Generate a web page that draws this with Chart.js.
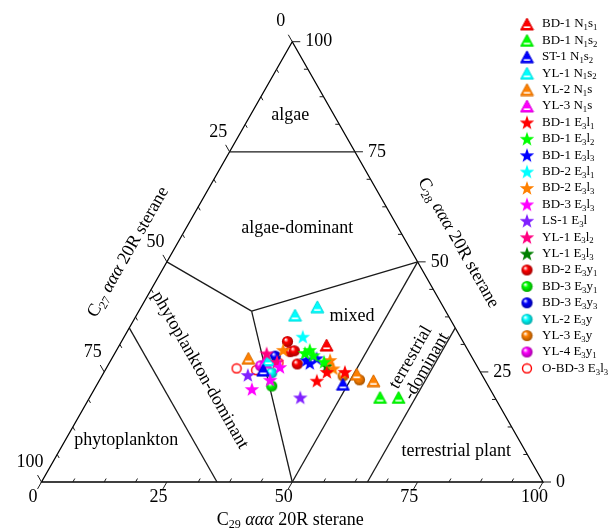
<!DOCTYPE html>
<html>
<head>
<meta charset="utf-8">
<script src="https://cdn.jsdelivr.net/npm/chart.js@4.4.1/dist/chart.umd.min.js"></script>
<style>
  body { margin: 0; background: #fff; }
  #wrap { width: 610px; height: 531px; }
</style>
</head>
<body>
<div id="wrap"><canvas id="ternary" width="610" height="531"></canvas></div>
<script>
const FONT = '"Liberation Serif", "Times New Roman", serif';

// Sample compositions, each point is [C27, C28, C29] in %
const bd1N1s1 = [[27.6, 31.1, 41.3]];
const bd1N1s2 = [[22.9, 19.2, 57.9], [19.2, 19.2, 61.6]];
const st1N1s2 = [[28.8, 22.2, 49.0], [43.1, 25.4, 31.5]];
const yl1N1s2 = [[30.5, 37.9, 31.6], [25.1, 39.8, 35.1], [40.9, 27.7, 31.4]];
const yl2N1s = [[44.7, 28.1, 27.2], [24.9, 24.5, 50.6], [22.3, 23.0, 54.7]];
const yl3N1s = [[41.8, 27.3, 30.9]];
const bd1E3l1 = [[30.6, 25.0, 44.4], [33.6, 23.0, 43.4], [27.0, 25.0, 48.0]];
const bd1E3l2 = [[31.5, 30.0, 38.5], [31.4, 28.8, 39.8], [30.0, 27.3, 42.7], [32.8, 29.3, 37.9]];
const bd1E3l3 = [[33.3, 27.7, 39.0], [31.1, 28.1, 40.8], [33.0, 27.0, 40.0]];
const bd2E3l1 = [[31.4, 33.0, 35.6]];
const bd2E3l3 = [[36.8, 30.0, 33.2], [28.6, 27.7, 43.7], [28.9, 25.8, 45.3]];
const bd3E3l3 = [[47.5, 21.1, 31.4], [42.8, 23.2, 34.0], [39.4, 26.1, 34.5]];
const ls1E3l = [[46.7, 24.3, 29.0], [38.8, 19.2, 42.0]];
const yl1E3l2 = [[40.5, 29.2, 30.3], [39.4, 27.3, 33.3]];
const yl1E3l3 = [[29.9, 26.4, 43.7]];
const bd2E3y1 = [[35.0, 31.9, 33.1], [35.6, 29.6, 34.8], [34.7, 29.8, 35.5], [35.6, 26.8, 37.6]];
const bd3E3y1 = [[43.2, 21.8, 35.0]];
const bd3E3y3 = [[39.1, 28.6, 32.3]];
const yl2E3y = [[41.7, 24.8, 33.5]];
const yl3E3y = [[27.8, 24.1, 48.1], [25.0, 23.2, 51.8]];
const yl4E3y1 = [[43.1, 26.4, 30.5]];
const oBd3E3l3 = [[39.2, 27.1, 33.7], [44.5, 25.4, 30.1], [48.2, 25.8, 26.0]];

// "_x" or "_{xy}" = subscript
const seriesNames = [
  'BD-1 N_1s_1', 'BD-1 N_1s_2', 'ST-1 N_1s_2', 'YL-1 N_1s_2', 'YL-2 N_1s', 'YL-3 N_1s',
  'BD-1 E_3l_1', 'BD-1 E_3l_2', 'BD-1 E_3l_3', 'BD-2 E_3l_1', 'BD-2 E_3l_3', 'BD-3 E_3l_3',
  'LS-1 E_3l', 'YL-1 E_3l_2', 'YL-1 E_3l_3', 'BD-2 E_3y_1', 'BD-3 E_3y_1', 'BD-3 E_3y_3',
  'YL-2 E_3y', 'YL-3 E_3y', 'YL-4 E_3y_1', 'O-BD-3 E_3l_3'
];
const seriesData = [
  bd1N1s1, bd1N1s2, st1N1s2, yl1N1s2, yl2N1s, yl3N1s,
  bd1E3l1, bd1E3l2, bd1E3l3, bd2E3l1, bd2E3l3, bd3E3l3,
  ls1E3l, yl1E3l2, yl1E3l3, bd2E3y1, bd3E3y1, bd3E3y3,
  yl2E3y, yl3E3y, yl4E3y1, oBd3E3l3
];
const seriesShapes = [
  'tri', 'tri', 'tri', 'tri', 'tri', 'tri',
  'star', 'star', 'star', 'star', 'star', 'star',
  'star', 'star', 'star', 'ball', 'ball', 'ball',
  'ball', 'ball', 'ball', 'ring'
];
const seriesColors = [
  '#ff0000', '#00ff00', '#0000ff', '#00ffff', '#ff8000', '#ff00ff',
  '#ff0000', '#00ff00', '#0000ff', '#00ffff', '#ff8000', '#ff00ff',
  '#8020ff', '#ff0080', '#008000', '#ff0000', '#00ff00', '#0000ff',
  '#00ffff', '#ff8000', '#ff00ff', '#ff0000'
];

const tickLabels = [0, 25, 50, 75, 100];
const minorStep = 6.25;

// class boundaries as [C27, C28, C29] end points
const kink = [38.7, 38.8, 22.5];
const boundaries = [
  [[25, 75, 0], [0, 75, 25]],
  [[50, 50, 0], kink],
  [kink, [0, 50, 50]],
  [kink, [50, 0, 50]],
  [[65, 35, 0], [65, 0, 35]],
  [[50, 0, 50], [0, 50, 50]],
  [[35, 0, 65], [0, 35, 65]]
];

// region names, placed in plot units (x = C29 + C28/2, y = C28)
const regionLabels = [
  { lines: ['algae'], x: 49.6, y: 83.3, rot: 0 },
  { lines: ['algae-dominant'], x: 51.0, y: 57.7, rot: 0 },
  { lines: ['mixed'], x: 61.9, y: 37.7, rot: 0 },
  { lines: ['phytoplankton-dominant'], x: 31.6, y: 25.4, rot: 60.3 },
  { lines: ['terrestrial', '-dominant'], x: 75.2, y: 27.3, rot: -60.3 },
  { lines: ['phytoplankton'], x: 16.9, y: 9.5, rot: 0 },
  { lines: ['terrestrial plant'], x: 82.7, y: 7.0, rot: 0 }
];

const axisTitles = [
  { text: 'C_{27} *ααα* 20R sterane', x: 17.3, y: 52.2, rot: -60.36 },
  { text: 'C_{28} *ααα* 20R sterane', x: 83.1, y: 54.3, rot: 60.3 },
  { text: 'C_{29} *ααα* 20R sterane', x: 49.6, y: -8.6, rot: 0 }
];

const toXY = (c) => ({ x: c[2] + c[1] / 2, y: c[1] });

// --- marker images ---
function darker(hex, f) {
  const n = parseInt(hex.slice(1), 16);
  const r = Math.round(((n >> 16) & 255) * f);
  const g = Math.round(((n >> 8) & 255) * f);
  const b = Math.round((n & 255) * f);
  return `rgb(${r},${g},${b})`;
}

function makeMarker(shape, color) {
  const c = document.createElement('canvas');
  const g = c.getContext('2d');
  if (shape === 'tri') {
    c.width = 15; c.height = 14;
    g.beginPath();
    g.moveTo(7.5, 1); g.lineTo(14, 13); g.lineTo(1, 13); g.closePath();
    g.fillStyle = color; g.fill();
    g.strokeStyle = darker(color, 0.85); g.lineWidth = 1; g.stroke();
    g.strokeStyle = '#fff'; g.lineWidth = 1.6;
    g.beginPath(); g.moveTo(4.3, 10.2); g.lineTo(10.7, 10.2); g.stroke();
  } else if (shape === 'star') {
    c.width = 16; c.height = 16;
    g.beginPath();
    for (let k = 0; k < 10; k++) {
      const r = k % 2 ? 3.1 : 7.6;
      const a = -Math.PI / 2 + k * Math.PI / 5;
      const px = 8 + r * Math.cos(a), py = 8.7 + r * Math.sin(a);
      if (k) g.lineTo(px, py); else g.moveTo(px, py);
    }
    g.closePath();
    g.fillStyle = color; g.fill();
  } else if (shape === 'ball') {
    c.width = 13; c.height = 13;
    const grd = g.createRadialGradient(4.6, 4.4, 0.3, 6.5, 6.5, 6.2);
    grd.addColorStop(0, '#ffffff');
    grd.addColorStop(0.35, color);
    grd.addColorStop(1, darker(color, 0.6));
    g.beginPath(); g.arc(6.5, 6.5, 5.6, 0, Math.PI * 2);
    g.fillStyle = grd; g.fill();
  } else {
    c.width = 12; c.height = 12;
    g.beginPath(); g.arc(6, 6, 4.5, 0, Math.PI * 2);
    g.fillStyle = '#fff'; g.fill();
    g.strokeStyle = color; g.lineWidth = 1.4; g.stroke();
  }
  return c;
}

const markers = seriesShapes.map((s, i) => makeMarker(s, seriesColors[i]));

// --- rich text: "_x"/"_{..}" subscript, "*" toggles italic ---
function parseRich(str) {
  const segs = [];
  let buf = '', it = false, i = 0;
  const flush = () => { if (buf) segs.push({ t: buf, it }); buf = ''; };
  while (i < str.length) {
    const ch = str[i];
    if (ch === '_') {
      flush();
      let s;
      if (str[i + 1] === '{') { const j = str.indexOf('}', i); s = str.slice(i + 2, j); i = j + 1; }
      else { s = str[i + 1]; i += 2; }
      segs.push({ t: s, sub: true, it });
    } else if (ch === '*') {
      flush(); it = !it; i++;
    } else { buf += ch; i++; }
  }
  flush();
  return segs;
}

function drawRich(ctx, str, x, y, size, align) {
  const segs = parseRich(str);
  const fontOf = (s) => `${s.it ? 'italic ' : ''}${s.sub ? size * 0.67 : size}px ${FONT}`;
  let total = 0;
  segs.forEach((s) => { ctx.font = fontOf(s); s.w = ctx.measureText(s.t).width; total += s.w; });
  let cx = align === 'center' ? x - total / 2 : x;
  ctx.textAlign = 'left';
  ctx.textBaseline = 'middle';
  segs.forEach((s) => {
    ctx.font = fontOf(s);
    ctx.fillText(s.t, cx, s.sub ? y + size * 0.3 : y);
    cx += s.w;
  });
}

// --- triangle frame, ticks, class boundaries and labels ---
const ternaryFrame = {
  id: 'ternaryFrame',
  beforeDatasetsDraw(chart) {
    const { ctx, scales } = chart;
    const pix = (c) => {
      const p = toXY(c);
      return [scales.x.getPixelForValue(p.x), scales.y.getPixelForValue(p.y)];
    };
    const at = (x, y) => [scales.x.getPixelForValue(x), scales.y.getPixelForValue(y)];
    const unit = (a, b) => {
      const dx = b[0] - a[0], dy = b[1] - a[1], l = Math.hypot(dx, dy);
      return [dx / l, dy / l];
    };
    const L = pix([100, 0, 0]), T = pix([0, 100, 0]), R = pix([0, 0, 100]);

    ctx.save();
    ctx.strokeStyle = '#000';
    ctx.lineWidth = 1.3;
    ctx.beginPath();
    ctx.moveTo(...L); ctx.lineTo(...T); ctx.lineTo(...R); ctx.closePath();
    ctx.stroke();

    ctx.strokeStyle = '#1a1a1a';
    boundaries.forEach(([a, b]) => {
      ctx.beginPath(); ctx.moveTo(...pix(a)); ctx.lineTo(...pix(b)); ctx.stroke();
    });

    // outward tick directions for each side
    const outLeft = unit(R, T), outBottom = unit(T, L), outRight = unit(L, R);
    const sides = [
      { point: (v) => pix([v, 100 - v, 0]), out: outLeft },
      { point: (v) => pix([100 - v, 0, v]), out: outBottom },
      { point: (v) => pix([0, v, 100 - v]), out: outRight }
    ];
    ctx.lineWidth = 1;
    sides.forEach((s) => {
      for (let v = 0; v <= 100; v += minorStep) {
        const p = s.point(v);
        const major = v % 25 === 0;
        const len = major ? 8 : -4;
        if (!major && (v === 0 || v === 100)) continue;
        ctx.beginPath();
        ctx.moveTo(...p);
        ctx.lineTo(p[0] + s.out[0] * len, p[1] + s.out[1] * len);
        ctx.stroke();
      }
    });

    ctx.fillStyle = '#000';
    ctx.font = `18px ${FONT}`;
    ctx.textBaseline = 'middle';
    tickLabels.forEach((v) => {
      let p = sides[0].point(v);
      ctx.textAlign = 'center';
      ctx.fillText(String(v), p[0] + outLeft[0] * 23, p[1] + outLeft[1] * 23);
      p = sides[1].point(v);
      ctx.fillText(String(v), p[0] + outBottom[0] * 17, p[1] + outBottom[1] * 17);
      p = sides[2].point(v);
      ctx.textAlign = 'left';
      ctx.fillText(String(v), p[0] + 13, p[1]);
    });

    regionLabels.forEach((r) => {
      const [x, y] = at(r.x, r.y);
      ctx.save();
      ctx.translate(x, y);
      ctx.rotate(r.rot * Math.PI / 180);
      ctx.textAlign = 'center';
      const n = r.lines.length;
      r.lines.forEach((line, k) => ctx.fillText(line, 0, (k - (n - 1) / 2) * 18));
      ctx.restore();
    });

    axisTitles.forEach((t) => {
      const [x, y] = at(t.x, t.y);
      ctx.save();
      ctx.translate(x, y);
      ctx.rotate(t.rot * Math.PI / 180);
      drawRich(ctx, t.text, 0, 0, 18, 'center');
      ctx.restore();
    });
    ctx.restore();
  }
};

// --- series key on the right ---
const sideLegend = {
  id: 'sideLegend',
  afterDraw(chart) {
    const { ctx } = chart;
    ctx.save();
    ctx.fillStyle = '#000';
    seriesNames.forEach((name, i) => {
      const y = 24 + i * 16.4;
      const m = markers[i];
      ctx.drawImage(m, 527 - m.width / 2, y - m.height / 2);
      drawRich(ctx, name, 542, y, 13, 'left');
    });
    ctx.restore();
  }
};

new Chart(document.getElementById('ternary'), {
  type: 'scatter',
  data: {
    datasets: seriesData.map((arr, i) => ({
      label: seriesNames[i],
      data: arr.map(toXY),
      pointStyle: markers[i],
      pointRadius: 7,
      pointHoverRadius: 7,
      order: seriesShapes[i] === 'star' ? 0 : 1
    }))
  },
  options: {
    responsive: false,
    animation: false,
    layout: { padding: { left: 41.5, right: 67, top: 41.7, bottom: 49 } },
    scales: {
      x: { type: 'linear', min: 0, max: 100, display: false },
      y: { type: 'linear', min: 0, max: 100, display: false }
    },
    plugins: {
      legend: { display: false },
      tooltip: { enabled: false }
    }
  },
  plugins: [ternaryFrame, sideLegend]
});
</script>
</body>
</html>
